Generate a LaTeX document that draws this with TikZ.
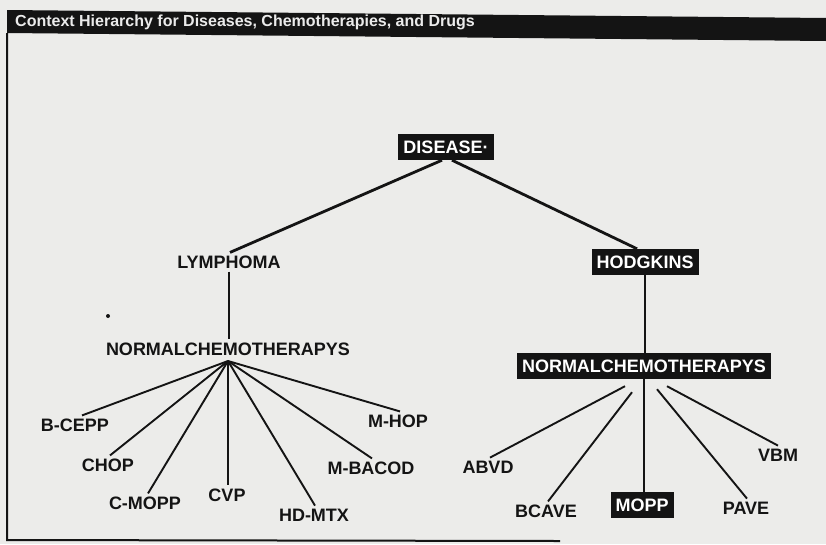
\documentclass[tikz,border=0pt]{standalone}
\usepackage{fontspec}
\setmainfont{Liberation Sans}
\definecolor{bgc}{RGB}{236,236,234}
\definecolor{ink}{RGB}{20,20,20}
\definecolor{titletext}{RGB}{235,235,235}
\begin{document}
\begin{tikzpicture}[x=1pt,y=-1pt,
  lbl/.style={font=\bfseries\fontsize{18}{18}\selectfont, inner sep=3pt, text=ink},
  boxed/.style={font=\bfseries\fontsize{18}{18}\selectfont, fill=ink, text=white, inner xsep=5pt, inner ysep=0pt, minimum height=26pt},
  link/.style={line width=1.9pt, draw=ink},
  heavy/.style={line width=2.8pt, draw=ink},
  frame/.style={line width=2pt, draw=ink}]
\useasboundingbox (0,0) rectangle (826,544);
\fill[bgc] (0,0) rectangle (826,544);
% title bar and frame
\fill[ink] (7,10) -- (826,18) -- (826,41) -- (7,33) -- cycle;
\node[anchor=west, font=\bfseries\fontsize{16}{16}\selectfont, text=titletext, inner sep=0pt] (title) at (15,22.5) {Context Hierarchy for Diseases, Chemotherapies, and Drugs};
\draw[frame] (7,33) -- (7,540) -- (560,541);
% nodes
\node[boxed] (disease) at (446,147) {DISEASE·};
\node[lbl] (lymphoma) at (229,262) {LYMPHOMA};
\node[boxed] (hodgkins) at (645,262) {HODGKINS};
\node[lbl] (lnct) at (228,349) {NORMALCHEMOTHERAPYS};
\node[boxed] (rnct) at (644,366) {NORMALCHEMOTHERAPYS};
\fill[ink] (108,316) circle (2);
\node[lbl] (bcepp) at (75,425) {B-CEPP};
\node[lbl] (chop) at (108,465) {CHOP};
\node[lbl] (cmopp) at (145,503) {C-MOPP};
\node[lbl] (cvp) at (227,495) {CVP};
\node[lbl] (hdmtx) at (314,515) {HD-MTX};
\node[lbl] (mbacod) at (371,468) {M-BACOD};
\node[lbl] (mhop) at (398,421) {M-HOP};
\node[lbl] (abvd) at (488,467) {ABVD};
\node[lbl] (bcave) at (546,511) {BCAVE};
\node[boxed] (mopp) at (642,505) {MOPP};
\node[lbl] (pave) at (746,508) {PAVE};
\node[lbl] (vbm) at (778,455) {VBM};
% top connectors
\draw[heavy] ([xshift=-4pt]disease.south) -- ([xshift=1pt]lymphoma.north);
\draw[heavy] ([xshift=6pt]disease.south) -- ([xshift=-8pt]hodgkins.north);
\draw[link] (lymphoma.south) -- (lymphoma.south |- lnct.north);
\draw[heavy] (hodgkins.south) -- (hodgkins.south |- rnct.north);
% left fan
\coordinate (lf) at (228,361);
\draw[link] (lf) -- ([xshift=7pt]bcepp.north);
\draw[link] (lf) -- ([xshift=2pt]chop.north);
\draw[link] (lf) -- ([xshift=3pt]cmopp.north);
\draw[link] (lf) -- ([xshift=1pt]cvp.north);
\draw[link] (lf) -- ([xshift=1pt]hdmtx.north);
\draw[link] (lf) -- ([xshift=1pt]mbacod.north);
\draw[link] (lf) -- ([xshift=2pt]mhop.north);
% right fan
\draw[link] ([xshift=-19pt,yshift=-7pt]rnct.south) -- ([xshift=2pt]abvd.north);
\draw[link] ([xshift=-12pt,yshift=-13pt]rnct.south) -- ([xshift=2pt]bcave.north);
\draw[heavy] (rnct.south) -- ([xshift=2pt]mopp.north);
\draw[link] ([xshift=13pt,yshift=-10pt]rnct.south) -- ([xshift=1pt]pave.north);
\draw[link] ([xshift=23pt,yshift=-7pt]rnct.south) -- (vbm.north);
\end{tikzpicture}
\end{document}
